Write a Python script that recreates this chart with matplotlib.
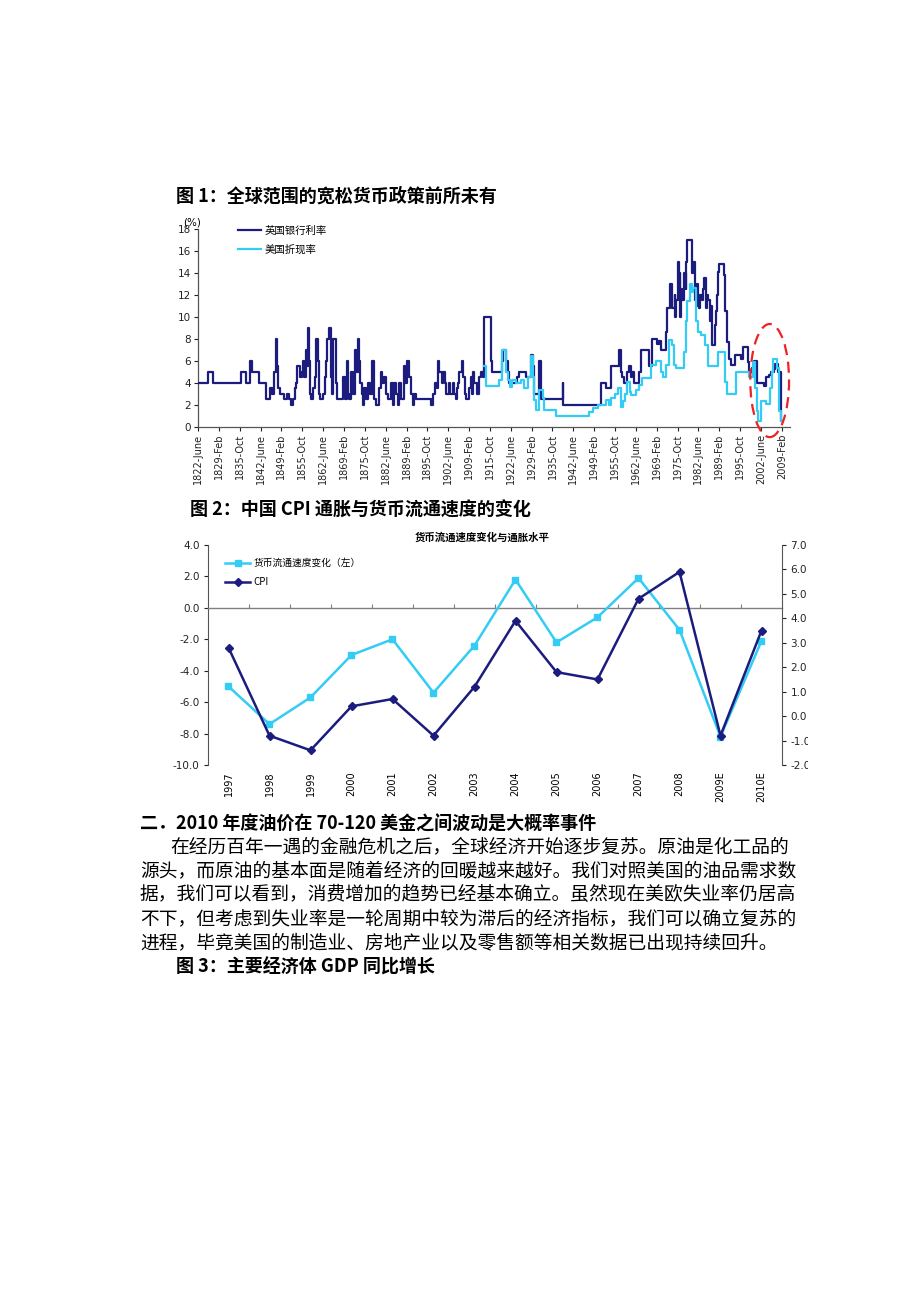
import matplotlib
matplotlib.use('Agg')
import matplotlib.pyplot as plt
import matplotlib.transforms as mtransforms
from matplotlib.patches import Ellipse, Rectangle
from matplotlib.lines import Line2D

plt.rcParams['font.family'] = ['DejaVu Sans']
CJK = ['Noto Sans CJK SC', 'DejaVu Sans']

W, H = 920, 1302

# ---------------- Chart 1 data (step series, decimal years) ----------------
uk_years = [1822.42, 1825.7, 1827.3, 1836.1, 1837.9, 1839.1, 1839.6, 1842.0, 1844.3, 1845.4,
            1846.0, 1846.8, 1847.3, 1847.6, 1848.0, 1848.6, 1849.8, 1851.0, 1851.5, 1852.0,
            1852.9, 1853.3, 1853.7, 1854.2, 1855.0, 1855.6, 1856.0, 1856.4, 1856.8, 1857.2,
            1857.5, 1857.9, 1858.1, 1858.4, 1859.2, 1859.8, 1860.3, 1860.8, 1861.1, 1861.4,
            1862.5, 1862.9, 1863.3, 1863.6, 1864.3, 1864.8, 1865.0, 1865.3, 1865.6, 1866.7,
            1867.0, 1868.8, 1869.3, 1870.0, 1870.3, 1870.6, 1871.4, 1871.9, 1872.5, 1873.0,
            1873.5, 1873.8, 1874.3, 1874.7, 1875.2, 1875.6, 1876.1, 1876.8, 1877.4, 1878.2,
            1878.6, 1879.4, 1880.4, 1881.0, 1881.3, 1881.8, 1882.4, 1883.1, 1884.2, 1884.7,
            1885.2, 1885.7, 1886.3, 1886.8, 1887.4, 1888.2, 1888.6, 1889.4, 1889.9, 1890.5,
            1891.1, 1891.6, 1892.2, 1896.8, 1897.5, 1898.3, 1898.8, 1899.2, 1899.6, 1900.4,
            1900.9, 1901.3, 1901.6, 1902.6, 1902.9, 1903.9, 1904.3, 1904.8, 1905.2, 1905.7,
            1906.0, 1906.8, 1907.3, 1907.7, 1908.2, 1909.1, 1909.6, 1910.0, 1910.4, 1910.8,
            1911.5, 1912.2, 1912.8, 1913.5, 1914.0, 1916.1, 1916.5,
            1919.5, 1919.9, 1921.0, 1921.5, 1921.9, 1924.5, 1925.2, 1927.4, 1928.8, 1929.6,
            1929.9, 1931.3, 1932.0, 1939.0, 1939.2, 1951.2, 1952.8, 1954.4, 1957.1, 1957.6,
            1958.1, 1958.6, 1959.7, 1960.3, 1960.8, 1961.3, 1961.9, 1963.5, 1964.0, 1966.7,
            1967.5, 1967.7, 1969.3, 1969.8, 1970.4, 1972.0, 1972.4, 1973.3, 1973.9, 1974.8,
            1975.0, 1975.3, 1975.9, 1976.2, 1976.4, 1976.6, 1977.0, 1977.3, 1977.9, 1978.3,
            1978.5, 1978.9, 1980.4, 1980.8, 1981.3, 1981.6, 1981.9, 1982.3, 1982.6, 1983.0,
            1983.5, 1983.9, 1984.2, 1984.9, 1985.3, 1985.6, 1986.1, 1986.5, 1986.9, 1987.7,
            1988.0, 1988.3, 1988.7, 1989.0, 1990.5, 1990.9, 1991.4, 1992.3, 1992.9, 1994.2,
            1996.0, 1996.8, 1998.2, 1998.5, 1999.6, 2000.3, 2001.2, 2003.3, 2003.9, 2004.9,
            2005.5, 2006.5, 2007.0, 2007.9, 2008.7, 2008.9, 2009.2]
uk_rates = [4, 5, 4, 5, 4, 6, 5, 4, 2.5, 3.5,
            3, 5, 8, 5.5, 3.5, 3, 2.5, 3, 2.5, 2,
            2.5, 3.5, 4, 5.5, 4.5, 5, 6, 4.5, 7, 5.5,
            9, 6, 3, 2.5, 3.5, 4.5, 8, 6, 3, 2.5,
            3, 4.5, 6, 8, 9, 8, 4.5, 3, 8, 4,
            2.5, 4.5, 2.5, 6, 3, 2.5, 5, 3, 7, 5,
            8, 6, 4, 3, 2, 3.5, 2.5, 4, 3, 6,
            2.5, 2, 3.5, 5, 4, 4.5, 3, 2.5, 4, 2,
            4, 3, 2, 4, 2.5, 5.5, 4, 6, 4.5, 3,
            2, 3, 2.5, 2, 3, 4, 3.5, 6, 5, 4,
            5, 4, 3, 4, 3, 4, 3, 2.5, 3.5, 4,
            5, 6, 4.5, 3, 2.5, 3.5, 4.5, 3, 5, 4,
            3, 4.5, 5, 4.5, 10, 6, 5,
            6, 7, 6, 5, 4, 4.5, 5, 4.5, 6.5, 5.5,
            3, 6, 2.5, 4, 2, 4, 3.5, 5.5, 7, 5,
            4.5, 4, 5, 5.5, 4.5, 5, 4, 5, 7, 5.5,
            7, 8, 7.5, 7.8, 7, 8.6, 10.8, 13, 10.8, 12,
            10, 11.5, 15, 12, 14, 10, 12.5, 11.5, 14, 12.5,
            15, 17, 14, 15, 11.5, 12.5, 13, 11, 10.8, 12,
            11.5, 12.5, 13.5, 10.8, 12, 11.5, 9.6, 11, 7.4, 9.3,
            10.5, 12, 14.1, 14.8, 13.8, 10.5, 7.7, 6.2, 5.6, 6.5,
            6.2, 7.3, 5.9, 5.0, 5.3, 6, 4, 3.75, 4.5, 4.75,
            5, 5.25, 5.75, 5, 3, 0.5, 0.5]

us_years = [1914.0, 1914.5, 1918.8, 1919.5, 1920.9, 1921.4, 1922.3, 1922.7, 1924.1, 1925.7,
            1926.8, 1927.8, 1928.9, 1929.5, 1929.8, 1930.6, 1931.5, 1932.6, 1933.1, 1936.9,
            1947.5, 1948.6, 1950.2, 1952.8, 1953.9, 1954.4, 1955.6, 1956.8, 1957.8, 1958.3,
            1958.9, 1959.7, 1960.4, 1960.8, 1962.4, 1963.5, 1964.5, 1967.2, 1968.9, 1970.3,
            1971.0, 1972.0, 1973.0, 1974.1, 1974.6, 1975.1, 1977.8, 1978.3, 1978.9, 1979.8,
            1980.4, 1980.8, 1981.8, 1982.4, 1983.2, 1984.5, 1985.4, 1988.7, 1990.8, 1991.4,
            1994.4, 1998.5, 1999.9, 2000.5, 2001.0, 2001.4, 2002.3, 2003.9, 2005.2, 2005.8,
            2006.4, 2007.7, 2008.2, 2008.7, 2009.2]
us_rates = [5.5, 3.7, 4.25, 7, 5, 4.25, 3.6, 4.25, 3.95, 4.25,
            3.5, 4.55, 6.4, 4.55, 2.4, 1.5, 3.3, 2.6, 1.5, 1.0,
            1.3, 1.67, 2.0, 2.4, 2.0, 2.6, 3.0, 3.5, 1.8, 2.3,
            3.0, 4.1, 3.2, 2.9, 3.3, 3.8, 4.4, 5.6, 6.0, 5.0,
            4.55, 5.6, 7.9, 7.4, 5.6, 5.3, 6.8, 9.6, 11.4, 13,
            12.3, 12.6, 9.6, 8.65, 8.35, 7.4, 5.5, 6.8, 4.1, 3.0,
            5.0, 4.55, 5.9, 3.5, 1.4, 0.5, 2.3, 2.1, 3.5, 5.0,
            6.2, 5.3, 1.4, 0.5, 0.5]

x_tick_labels = ['1822-June', '1829-Feb', '1835-Oct', '1842-June', '1849-Feb', '1855-Oct',
                 '1862-June', '1869-Feb', '1875-Oct', '1882-June', '1889-Feb', '1895-Oct',
                 '1902-June', '1909-Feb', '1915-Oct', '1922-June', '1929-Feb', '1935-Oct',
                 '1942-June', '1949-Feb', '1955-Oct', '1962-June', '1969-Feb', '1975-Oct',
                 '1982-June', '1989-Feb', '1995-Oct', '2002-June', '2009-Feb']
month_num = {'Feb': 2, 'June': 6, 'Oct': 10}

# ---------------- Chart 2 data ----------------
years2 = ['1997', '1998', '1999', '2000', '2001', '2002', '2003', '2004', '2005', '2006',
          '2007', '2008', '2009E', '2010E']
velocity = [-5.0, -7.4, -5.7, -3.0, -2.0, -5.4, -2.4, 1.8, -2.2, -0.6, 1.9, -1.4, -8.2, -2.1]
cpi = [2.8, -0.8, -1.4, 0.4, 0.7, -0.8, 1.2, 3.9, 1.8, 1.5, 4.8, 5.9, -0.8, 3.5]

NAVY = '#1c1c7e'
CYAN = '#33ccf5'


def fx(x):
    return x / W


def fy(y):
    return 1 - y / H


fig = plt.figure(figsize=(9.2, 13.02), dpi=100)
fig.patch.set_facecolor('white')

# ---------------- Text blocks ----------------
fig.text(fx(176), fy(196), '图 1：全球范围的宽松货币政策前所未有', family=CJK,
         fontsize=13, fontweight='bold', va='center', ha='left')
fig.text(fx(190), fy(510), '图 2：中国 CPI 通胀与货币流通速度的变化', family=CJK,
         fontsize=13, fontweight='bold', va='center', ha='left')
fig.text(fx(140), fy(824), '二．2010 年度油价在 70-120 美金之间波动是大概率事件', family=CJK,
         fontsize=13, fontweight='bold', va='center', ha='left')
body = [
    (170, 847, '在经历百年一遇的金融危机之后，全球经济开始逐步复苏。原油是化工品的'),
    (140, 871, '源头，而原油的基本面是随着经济的回暖越来越好。我们对照美国的油品需求数'),
    (140, 895, '据，我们可以看到，消费增加的趋势已经基本确立。虽然现在美欧失业率仍居高'),
    (140, 919, '不下，但考虑到失业率是一轮周期中较为滞后的经济指标，我们可以确立复苏的'),
    (140, 943, '进程，毕竟美国的制造业、房地产业以及零售额等相关数据已出现持续回升。'),
]
for x, y, s in body:
    fig.text(fx(x), fy(y), s, family=CJK, fontsize=13.5, va='center', ha='left')
fig.text(fx(176), fy(967), '图 3：主要经济体 GDP 同比增长', family=CJK,
         fontsize=13, fontweight='bold', va='center', ha='left')

# ---------------- Chart 1 ----------------
x0, x1, yb, yt = 198, 790, 426.7, 229
ax1 = fig.add_axes([fx(x0), fy(yb), (x1 - x0) / W, (yb - yt) / H])
ax1.step(uk_years, uk_rates, where='post', color=NAVY, lw=1.6, zorder=3)
ax1.step(us_years, us_rates, where='post', color=CYAN, lw=1.6, zorder=4)
ax1.set_ylim(0, 18)
ax1.set_xlim(1822.42, 2011.7)
ax1.set_yticks(range(0, 19, 2))
ticks = [int(s.split('-')[0]) + (month_num[s.split('-')[1]] - 1) / 12 for s in x_tick_labels]
ax1.set_xticks(ticks)
ax1.set_xticklabels(x_tick_labels, rotation=90, fontsize=7)
ax1.tick_params(axis='y', labelsize=7.5, length=3, width=0.8, pad=2, colors='#222222')
ax1.tick_params(axis='x', length=3, width=0.8, pad=2, colors='#222222')
for s in ['top', 'right']:
    ax1.spines[s].set_visible(False)
for s in ['left', 'bottom']:
    ax1.spines[s].set_color('#555555')
    ax1.spines[s].set_linewidth(0.9)
ax1.text(0.005, 1.035, '(%)', transform=ax1.transAxes, fontsize=7.5, ha='right', va='center')
ell = Ellipse((2005.2, 4.2), 12.4, 10.3, fill=False, edgecolor='#ee2222', lw=1.6,
              linestyle=(0, (5, 3)), clip_on=False, zorder=6)
ax1.add_patch(ell)
h1 = [Line2D([], [], color=NAVY, lw=1.6), Line2D([], [], color=CYAN, lw=1.6)]
ax1.legend(h1, ['英国银行利率', '美国折现率'], loc='upper left',
           bbox_to_anchor=(0.068, 1.015), frameon=False, prop={'family': CJK, 'size': 7.5},
           handlelength=2.2, handletextpad=0.3, labelspacing=0.75,
           borderpad=0, borderaxespad=0)

# ---------------- Chart 2 ----------------
l2, r2, b2, t2 = 208, 782, 765, 545
ax2 = fig.add_axes([fx(l2), fy(b2), (r2 - l2) / W, (b2 - t2) / H])
xs = list(range(len(years2)))
ax2.set_xlim(-0.5, len(years2) - 0.5)
ax2.set_ylim(-10, 4)
ax2.set_yticks(range(-10, 5, 2))
ax2.set_yticklabels([f'{v:.1f}' for v in range(-10, 5, 2)])
ax2.spines['top'].set_visible(False)
ax2.spines['right'].set_visible(False)
ax2.spines['bottom'].set_position(('data', 0))
ax2.spines['bottom'].set_color('#808080')
ax2.spines['bottom'].set_linewidth(1.0)
ax2.spines['left'].set_color('#555555')
ax2.set_xticks([i + 0.5 for i in range(len(years2) - 1)])
ax2.set_xticklabels([])
ax2.tick_params(axis='x', direction='in', length=3, color='#808080')
ax2.tick_params(axis='y', labelsize=7.5, length=3, pad=3, colors='#222222')
trans = mtransforms.blended_transform_factory(ax2.transData, ax2.transAxes)
for i, lab in enumerate(years2):
    ax2.text(i, -0.03, lab, transform=trans, rotation=90, ha='center', va='top', fontsize=7)

ax2r = ax2.twinx()
ax2r.set_ylim(-2, 7)
ax2r.set_yticks(range(-2, 8))
ax2r.set_yticklabels([f'{v:.1f}' for v in range(-2, 8)])
for s in ['top', 'bottom', 'left']:
    ax2r.spines[s].set_visible(False)
ax2r.spines['right'].set_color('#555555')
ax2r.tick_params(axis='y', labelsize=7.5, length=3, pad=3, colors='#222222')

lv, = ax2.plot(xs, velocity, color=CYAN, lw=1.8, marker='s', markersize=4.5, zorder=3)
lc, = ax2r.plot(xs, cpi, color=NAVY, lw=1.8, marker='D', markersize=4, zorder=3)

fig.text(fx(482), fy(538), '货币流通速度变化与通胀水平', family=CJK, fontsize=7.5,
         fontweight='bold', ha='center', va='center')
ax2r.legend([lv, lc], ['货币流通速度变化（左）', 'CPI'], loc='upper left',
            bbox_to_anchor=(0.03, 0.94), frameon=False, prop={'family': CJK, 'size': 7},
            handlelength=2.6, handletextpad=0.3, labelspacing=0.9,
            borderpad=0, borderaxespad=0)

# page crop on the right side of chart 2 labels
fig.patches.append(Rectangle((fx(808), fy(780)), fx(900) - fx(808), (780 - 530) / H,
                             transform=fig.transFigure, facecolor='white', edgecolor='none',
                             zorder=20))

fig.savefig('out.png', dpi=100, facecolor='white')
